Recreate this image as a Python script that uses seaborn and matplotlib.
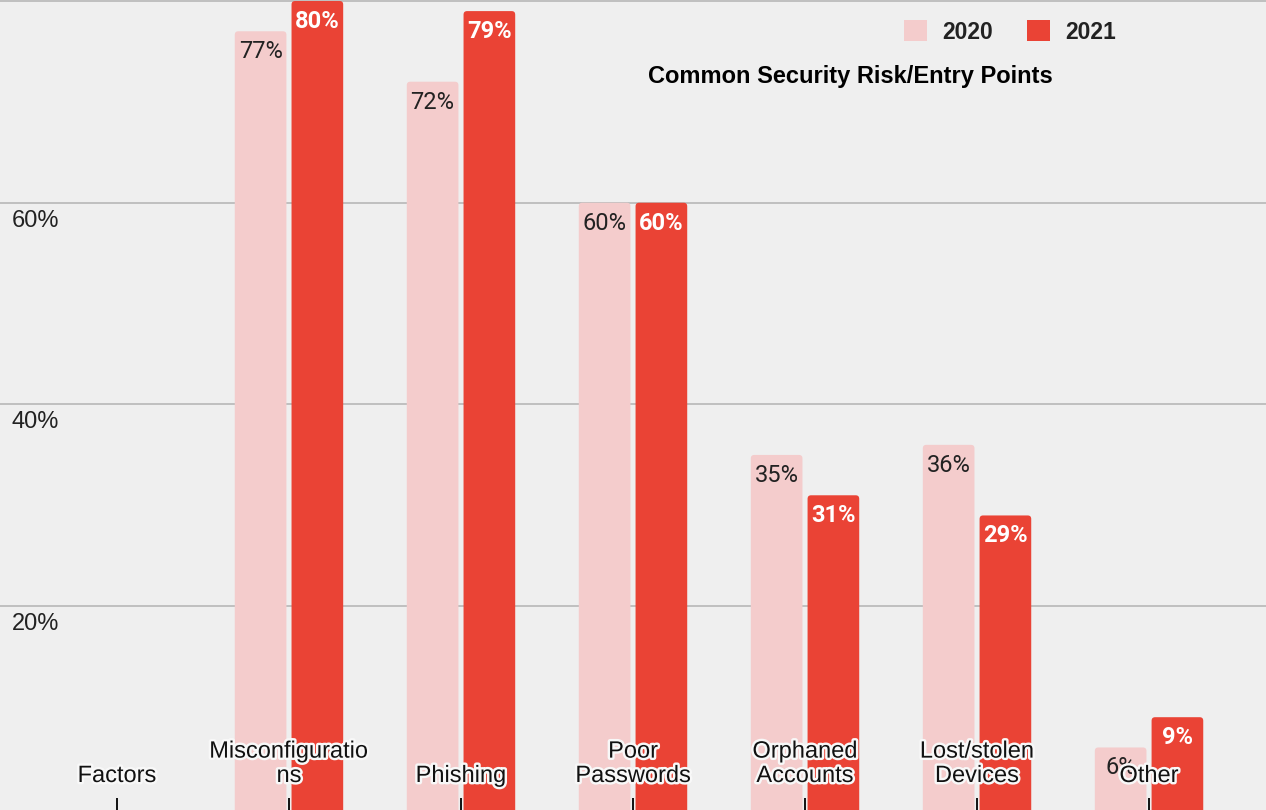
import numpy as np
import pandas as pd
import matplotlib
matplotlib.use("Agg")
import matplotlib.pyplot as plt
import matplotlib.transforms as mtransforms
import matplotlib.patheffects as pe
from matplotlib.patches import FancyBboxPatch
import seaborn as sns

# ---- data ----
categories = ["Factors", "Misconfigurations", "Phishing", "Poor Passwords",
              "Orphaned Accounts", "Lost/stolen Devices", "Other"]
tick_labels = ["Factors", "Misconfiguratio\nns", "Phishing", "Poor\nPasswords",
               "Orphaned\nAccounts", "Lost/stolen\nDevices", "Other"]
series_names = ["2020", "2021"]
values_2020 = [np.nan, 77, 72, 60, 35, 36, 6]
values_2021 = [np.nan, 80, 79, 60, 31, 29, 9]
y_ticks = [20, 40, 60, 80]
y_tick_labels = ["20%", "40%", "60%", ""]
title = "Common Security Risk/Entry Points"

colors = {"2020": "#f4cccc", "2021": "#ea4335"}
bg = "#efefef"

df = pd.DataFrame({
    "category": categories * 2,
    "year": ["2020"] * len(categories) + ["2021"] * len(categories),
    "value": values_2020 + values_2021,
})

sns.set_theme(style="white")
plt.rcParams["font.family"] = ["Liberation Sans", "DejaVu Sans"]

fig = plt.figure(figsize=(12.66, 8.10), dpi=100, facecolor=bg)
ax = fig.add_axes([0, 0, 1, 1])
ax.set_facecolor(bg)

sns.barplot(data=df.dropna(), x="category", y="value", hue="year",
            order=categories, hue_order=series_names, palette=colors,
            saturation=1, width=0.66, gap=0.09, errorbar=None, ax=ax,
            zorder=2, linewidth=0)

ax.set_xlim(-0.68, len(categories) - 1 + 0.68)
ax.set_ylim(-0.2, 80.1)
for s in ax.spines.values():
    s.set_visible(False)

# rounded top corners (bottom corners pushed below the visible area)
x_per_px = (len(categories) - 1 + 1.36) / 1266
y_per_px = 80.3 / 810
r_px = 3.5
for cont in ax.containers:
    for bar in cont:
        h = bar.get_height()
        if np.isnan(h):
            continue
        bar.set_visible(False)
        extra = 2 * r_px * y_per_px
        fb = FancyBboxPatch((bar.get_x(), bar.get_y() - extra), bar.get_width(), h + extra,
                            boxstyle=f"round,pad=0,rounding_size={r_px * x_per_px}",
                            mutation_aspect=y_per_px / x_per_px,
                            facecolor=bar.get_facecolor(), edgecolor="none",
                            linewidth=0, zorder=2)
        ax.add_patch(fb)

ax.set_yticks(y_ticks)
ax.yaxis.grid(True, color="#b7b7b7", linewidth=1.2, zorder=0)
ax.set_axisbelow(True)
ax.tick_params(axis="y", length=0, direction="in", pad=-12, labelsize=17,
               labelcolor="#222222")
ax.set_yticklabels(y_tick_labels)
for lab in ax.get_yticklabels():
    lab.set_horizontalalignment("left")
    lab.set_verticalalignment("top")
    lab.set_transform(lab.get_transform() + mtransforms.ScaledTranslation(-5/100, -7/100, fig.dpi_scale_trans))

ax.set_xticks(range(len(categories)))
ax.set_xticklabels([""] * len(categories))
ax.tick_params(axis="x", direction="in", length=8.5, width=1.3, color="black", bottom=True)
ax.set_xlabel("")
ax.set_ylabel("")

# value labels
for cont, name in zip(ax.containers, series_names):
    for bar in cont:
        h = bar.get_height()
        if np.isnan(h):
            continue
        x = bar.get_x() + bar.get_width() / 2
        off = mtransforms.offset_copy(ax.transData, fig=fig, x=0, y=-9, units="dots")
        if name == "2021":
            ax.text(x, h, f"{h:.0f}%", transform=off, ha="center", va="top",
                    fontsize=17, color="white", fontweight="bold",
                    family=["Roboto", "DejaVu Sans"], zorder=4)
        else:
            ax.text(x, h, f"{h:.0f}%", transform=off, ha="center", va="top",
                    fontsize=17, color="#222222",
                    family=["Roboto", "DejaVu Sans"], zorder=4)

# category labels inside plot
trans = mtransforms.blended_transform_factory(ax.transData, ax.transAxes)
for i, lab in enumerate(tick_labels):
    ax.text(i, 23 / 810, lab, transform=trans, ha="center", va="bottom",
            fontsize=17, color="#111111", linespacing=1.14, zorder=5,
            path_effects=[pe.withStroke(linewidth=3.5, foreground="#f8f8f8")])

# legend
handles, labels = ax.get_legend_handles_labels()
if ax.get_legend() is not None:
    ax.get_legend().remove()
leg = ax.legend(handles, labels, ncol=2, frameon=False, loc="center",
                bbox_to_anchor=(1010 / 1266, 1 - 32 / 810),
                handlelength=1.0, handleheight=1.0, handletextpad=0.7,
                columnspacing=1.45, prop={"size": 16.5, "weight": "bold"})
for t in leg.get_texts():
    t.set_color("#222222")

ax.text(850 / 1266, 1 - 76 / 810, title, transform=ax.transAxes, ha="center",
        va="center", fontsize=17, fontweight="bold", color="#000000")

fig.savefig("out.png", dpi=100, facecolor=bg)
